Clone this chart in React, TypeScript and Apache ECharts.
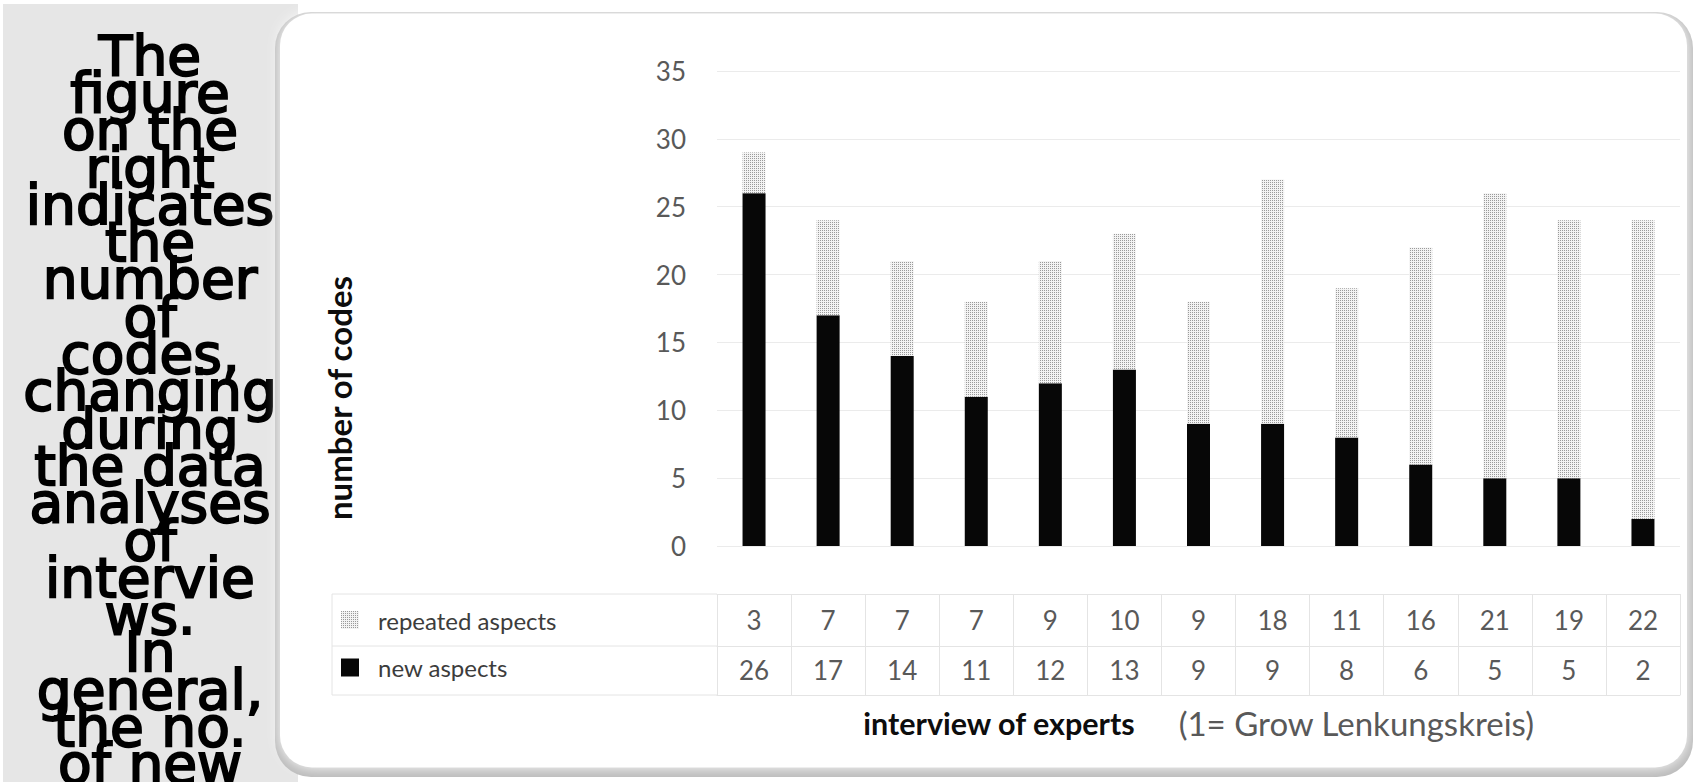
import React, { useEffect, useRef } from 'react';
import * as echarts from 'echarts';

const categories = ['1', '2', '3', '4', '5', '6', '7', '8', '9', '10', '11', '12', '13'];
const repeatedAspects = [3, 7, 7, 7, 9, 10, 9, 18, 11, 16, 21, 19, 22];
const newAspects = [26, 17, 14, 11, 12, 13, 9, 9, 8, 6, 5, 5, 2];
const seriesNames = ['repeated aspects', 'new aspects'];
const yMin = 0;
const yMax = 35;
const yStep = 5;
const yTitle = 'number of codes';
const xTitle = 'interview of experts';
const xNote = '(1= Grow Lenkungskreis)';
const panelLines = [
  'The', 'figure', 'on the', 'right', 'indicates', 'the', 'number', 'of', 'codes,',
  'changing', 'during', 'the data', 'analyses', 'of', 'intervie', 'ws.', 'In',
  'general,', 'the no.', 'of new',
];

const FONT = 'Lato, "Open Sans", sans-serif';
const TABLE_LINE = '#e4e4e4';

function makeDots(): HTMLCanvasElement {
  const c = document.createElement('canvas');
  c.width = 2;
  c.height = 2;
  const ctx = c.getContext('2d')!;
  ctx.fillStyle = '#f3f3f3';
  ctx.fillRect(0, 0, 2, 2);
  ctx.fillStyle = '#9a9a9a';
  ctx.fillRect(0, 0, 1, 1);
  return c;
}

export default function App() {
  const ref = useRef<HTMLDivElement>(null);

  useEffect(() => {
    if (!ref.current) return;
    const chart = echarts.init(ref.current, undefined, { renderer: 'svg' });
    const dots = { image: makeDots(), repeat: 'repeat' } as any;

    const tableAxis = (offset: number, values: number[] | null, margin: number, ticks: boolean) => ({
      type: 'category',
      data: categories,
      gridIndex: 0,
      position: 'bottom',
      offset,
      axisLine: { show: true, onZero: false, lineStyle: { color: TABLE_LINE, width: 1 } },
      axisTick: { show: ticks, interval: 0, length: 101, lineStyle: { color: TABLE_LINE, width: 1 } },
      axisLabel: values
        ? {
            show: true,
            interval: 0,
            margin,
            fontFamily: FONT,
            fontSize: 26,
            color: '#595959',
            formatter: (_v: string, i: number) => String(values[i]),
          }
        : { show: false },
      splitLine: { show: false },
    });

    chart.setOption({
      animation: false,
      backgroundColor: '#ffffff',
      grid: { left: 717, right: 16, top: 71, bottom: 236, containLabel: false },
      legend: {
        data: seriesNames,
        orient: 'vertical',
        left: 341,
        top: 608,
        padding: 0,
        itemWidth: 18,
        itemHeight: 18,
        itemGap: 23.5,
        icon: 'rect',
        selectedMode: false,
        textStyle: {
          fontFamily: FONT,
          fontSize: 24,
          lineHeight: 18,
          color: '#3c3c3c',
          padding: [0, 0, 0, 14],
        },
      },
      xAxis: [
        {
          type: 'category',
          data: categories,
          gridIndex: 0,
          position: 'bottom',
          axisLine: { show: false, onZero: false },
          axisTick: { show: false },
          axisLabel: { show: false },
        },
        tableAxis(48, repeatedAspects, 13, true),
        tableAxis(100, newAspects, 11, false),
        {
          ...tableAxis(149, null, 0, false),
          name: `{b|${xTitle}}{g|${xNote}}`,
          nameLocation: 'middle',
          nameGap: 11,
          nameTextStyle: {
            rich: {
              b: { fontFamily: FONT, fontWeight: 'bold', fontSize: 30.5, color: '#0d0d0d' },
              g: { fontFamily: FONT, fontSize: 33, color: '#595959', padding: [0, 0, 0, 43] },
            },
          },
        },
      ],
      yAxis: {
        type: 'value',
        min: yMin,
        max: yMax,
        interval: yStep,
        axisLine: { show: false },
        axisTick: { show: false },
        splitLine: { lineStyle: { color: '#ebebeb', width: 1 } },
        axisLabel: { margin: 31, fontFamily: FONT, fontSize: 26, color: '#595959' },
      },
      series: [
        {
          name: seriesNames[1],
          type: 'bar',
          stack: 'codes',
          data: newAspects,
          barWidth: 23,
          itemStyle: { color: '#070707' },
        },
        {
          name: seriesNames[0],
          type: 'bar',
          stack: 'codes',
          data: repeatedAspects,
          barWidth: 23,
          itemStyle: { color: dots },
        },
      ],
      graphic: {
        elements: [
          {
            type: 'rect',
            z: -10,
            shape: { x: 3, y: 4, width: 295, height: 800 },
            style: { fill: '#e6e6e6' },
          },
          {
            type: 'text',
            z: -9,
            x: 150,
            y: 37,
            style: {
              text: panelLines.join('\n'),
              fontFamily: '"DejaVu Sans", sans-serif',
              fontSize: 55,
              lineHeight: 37.3,
              fill: '#000000',
              stroke: '#000000',
              lineWidth: 2,
              align: 'center',
              verticalAlign: 'top',
            },
          },
          {
            type: 'rect',
            z: -8,
            shape: { x: 275, y: 12, width: 1418, height: 765, r: 36 },
            style: { fill: '#bababa' },
          },
          {
            type: 'rect',
            z: -7,
            shape: { x: 280, y: 13.5, width: 1407, height: 754, r: 32 },
            style: { fill: '#ffffff', shadowBlur: 14, shadowColor: 'rgba(255,255,255,1)' },
          },
          {
            type: 'line',
            z: 1,
            shape: { x1: 332, y1: 594, x2: 717, y2: 594 },
            style: { stroke: TABLE_LINE, lineWidth: 1 },
          },
          {
            type: 'line',
            z: 1,
            shape: { x1: 332, y1: 646, x2: 717, y2: 646 },
            style: { stroke: TABLE_LINE, lineWidth: 1 },
          },
          {
            type: 'line',
            z: 1,
            shape: { x1: 332, y1: 695, x2: 717, y2: 695 },
            style: { stroke: TABLE_LINE, lineWidth: 1 },
          },
          {
            type: 'line',
            z: 1,
            shape: { x1: 332, y1: 594, x2: 332, y2: 695 },
            style: { stroke: TABLE_LINE, lineWidth: 1 },
          },
          {
            type: 'text',
            z: 5,
            x: 339,
            y: 398,
            rotation: Math.PI / 2,
            style: {
              text: yTitle,
              fontFamily: FONT,
              fontWeight: 'bold',
              fontSize: 33,
              fill: '#0d0d0d',
              align: 'center',
              verticalAlign: 'middle',
            },
          },
        ],
      },
    });

    return () => chart.dispose();
  }, []);

  return (
    <div
      ref={ref}
      style={{ position: 'fixed', left: 0, top: 0, width: 1696, height: 782, background: '#fff' }}
    />
  );
}
